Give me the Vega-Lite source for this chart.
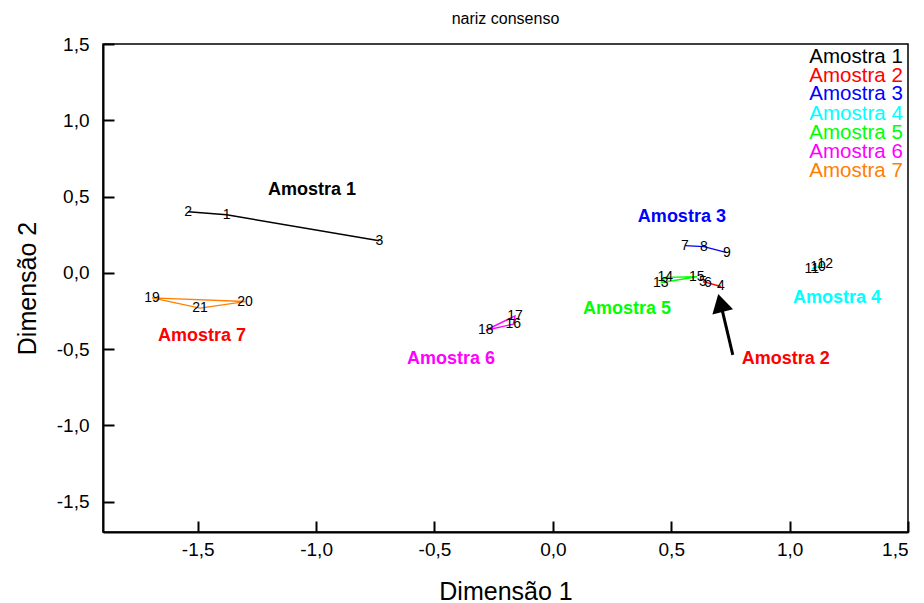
{
  "$schema": "https://vega.github.io/schema/vega-lite/v6.json",
  "width": 805,
  "height": 488,
  "autosize": "none",
  "padding": {"left": 103, "top": 44, "right": 16, "bottom": 71},
  "background": "white",
  "title": {"text": "nariz consenso", "fontSize": 16, "font": "Liberation Sans", "fontWeight": "normal", "color": "black", "offset": 8},
  "config": {
    "locale": {"number": {"decimal": ",", "thousands": ".", "grouping": [3], "currency": ["", ""], "minus": "-"}},
    "view": {"stroke": "black", "strokeWidth": 1.5},
    "font": "Liberation Sans",
    "axis": {
      "grid": false,
      "domainColor": "black",
      "domainWidth": 2,
      "tickColor": "black",
      "tickWidth": 2,
      "tickSize": -11,
      "labelFont": "Liberation Sans",
      "labelFontSize": 19,
      "labelColor": "black",
      "titleFont": "Liberation Sans",
      "titleFontSize": 25,
      "titleFontWeight": "normal",
      "titleColor": "black"
    }
  },
  "datasets": {
    "pts": [
      {"group": "Amostra 1", "num": "2", "ord": 1, "x": -1.54, "y": 0.40},
      {"group": "Amostra 1", "num": "1", "ord": 2, "x": -1.378, "y": 0.38},
      {"group": "Amostra 1", "num": "3", "ord": 3, "x": -0.733, "y": 0.21},
      {"group": "Amostra 2", "num": "5", "ord": 1, "x": 0.634, "y": -0.059},
      {"group": "Amostra 2", "num": "6", "ord": 2, "x": 0.655, "y": -0.066},
      {"group": "Amostra 2", "num": "4", "ord": 3, "x": 0.71, "y": -0.09},
      {"group": "Amostra 3", "num": "7", "ord": 1, "x": 0.558, "y": 0.178},
      {"group": "Amostra 3", "num": "8", "ord": 2, "x": 0.638, "y": 0.171},
      {"group": "Amostra 3", "num": "9", "ord": 3, "x": 0.735, "y": 0.132},
      {"group": "Amostra 4", "num": "11", "ord": 1, "x": 1.094, "y": 0.026},
      {"group": "Amostra 4", "num": "10", "ord": 2, "x": 1.12, "y": 0.04},
      {"group": "Amostra 4", "num": "12", "ord": 3, "x": 1.15, "y": 0.06},
      {"group": "Amostra 5", "num": "13", "ord": 1, "x": 0.456, "y": -0.066},
      {"group": "Amostra 5", "num": "14", "ord": 2, "x": 0.475, "y": -0.03},
      {"group": "Amostra 5", "num": "15", "ord": 3, "x": 0.608, "y": -0.026},
      {"group": "Amostra 5", "num": "", "ord": 4, "x": 0.456, "y": -0.066},
      {"group": "Amostra 6", "num": "18", "ord": 1, "x": -0.283, "y": -0.377},
      {"group": "Amostra 6", "num": "17", "ord": 2, "x": -0.16, "y": -0.283},
      {"group": "Amostra 6", "num": "16", "ord": 3, "x": -0.167, "y": -0.337},
      {"group": "Amostra 6", "num": "", "ord": 4, "x": -0.283, "y": -0.377},
      {"group": "Amostra 7", "num": "19", "ord": 1, "x": -1.693, "y": -0.165},
      {"group": "Amostra 7", "num": "20", "ord": 2, "x": -1.30, "y": -0.189},
      {"group": "Amostra 7", "num": "21", "ord": 3, "x": -1.49, "y": -0.232},
      {"group": "Amostra 7", "num": "", "ord": 4, "x": -1.693, "y": -0.165}
    ],
    "notes": [
      {"group": "Amostra 1", "x": -1.017, "y": 0.545},
      {"group": "Amostra 2", "x": 0.984, "y": -0.565},
      {"group": "Amostra 3", "x": 0.545, "y": 0.368},
      {"group": "Amostra 4", "x": 1.2, "y": -0.164},
      {"group": "Amostra 5", "x": 0.313, "y": -0.236},
      {"group": "Amostra 6", "x": -0.43, "y": -0.565},
      {"group": "Amostra 7", "x": -1.482, "y": -0.414}
    ],
    "legend": [
      {"group": "Amostra 1", "x": 1.478, "y": 1.418},
      {"group": "Amostra 2", "x": 1.478, "y": 1.293},
      {"group": "Amostra 3", "x": 1.478, "y": 1.169},
      {"group": "Amostra 4", "x": 1.478, "y": 1.044},
      {"group": "Amostra 5", "x": 1.478, "y": 0.919},
      {"group": "Amostra 6", "x": 1.478, "y": 0.794},
      {"group": "Amostra 7", "x": 1.478, "y": 0.670}
    ],
    "arrow": [
      {"x": 0.76, "y": -0.538, "x2": 0.708, "y2": -0.198}
    ],
    "head": [
      {"x": 0.708, "y": -0.198}
    ]
  },
  "encoding": {
    "x": {"field": "x", "type": "quantitative", "scale": {"domain": [-1.9, 1.5], "nice": false, "zero": false},
      "axis": {"title": "Dimensão 1", "values": [-1.5, -1, -0.5, 0, 0.5, 1, 1.5], "format": ".1f", "labelPadding": 19, "titlePadding": 20}},
    "y": {"field": "y", "type": "quantitative", "scale": {"domain": [-1.7, 1.5], "nice": false, "zero": false},
      "axis": {"title": "Dimensão 2", "values": [-1.5, -1, -0.5, 0, 0.5, 1, 1.5], "format": ".1f", "labelPadding": 25, "titlePadding": 16}}
  },
  "layer": [
    {
      "data": {"name": "pts"},
      "mark": {"type": "line", "strokeWidth": 1.4},
      "encoding": {
        "detail": {"field": "group"},
        "order": {"field": "ord", "type": "quantitative"},
        "color": {"field": "group", "type": "nominal", "legend": null,
          "scale": {"domain": ["Amostra 1", "Amostra 2", "Amostra 3", "Amostra 4", "Amostra 5", "Amostra 6", "Amostra 7"],
                    "range": ["#000000", "#FF0000", "#0000FF", "#00FFFF", "#00FF00", "#FF00FF", "#FF8000"]}}
      }
    },
    {
      "data": {"name": "pts"},
      "transform": [{"filter": "datum.num != ''"}],
      "mark": {"type": "text", "fontSize": 14, "color": "black", "font": "Liberation Sans"},
      "encoding": {"text": {"field": "num"}}
    },
    {
      "data": {"name": "notes"},
      "mark": {"type": "text", "fontSize": 18, "fontWeight": "bold", "font": "Liberation Sans"},
      "encoding": {
        "text": {"field": "group"},
        "color": {"field": "group", "type": "nominal", "legend": null,
          "scale": {"domain": ["Amostra 1", "Amostra 2", "Amostra 3", "Amostra 4", "Amostra 5", "Amostra 6", "Amostra 7"],
                    "range": ["#000000", "#FF0000", "#0000FF", "#00FFFF", "#00FF00", "#FF00FF", "#FF0000"]}}
      }
    },
    {
      "data": {"name": "legend"},
      "mark": {"type": "text", "fontSize": 20.5, "align": "right", "font": "Liberation Sans"},
      "encoding": {
        "text": {"field": "group"},
        "color": {"field": "group", "type": "nominal", "legend": null,
          "scale": {"domain": ["Amostra 1", "Amostra 2", "Amostra 3", "Amostra 4", "Amostra 5", "Amostra 6", "Amostra 7"],
                    "range": ["#000000", "#FF0000", "#0000FF", "#00FFFF", "#00FF00", "#FF00FF", "#FF8000"]}}
      }
    },
    {
      "data": {"name": "arrow"},
      "mark": {"type": "rule", "strokeWidth": 3, "color": "black"},
      "encoding": {"x2": {"field": "x2"}, "y2": {"field": "y2"}}
    },
    {
      "data": {"name": "head"},
      "mark": {"type": "point", "shape": "triangle-up", "filled": true, "color": "black", "opacity": 1, "size": 450, "angle": 346},
      "encoding": {}
    }
  ],
  "resolve": {"scale": {"color": "independent"}}
}
